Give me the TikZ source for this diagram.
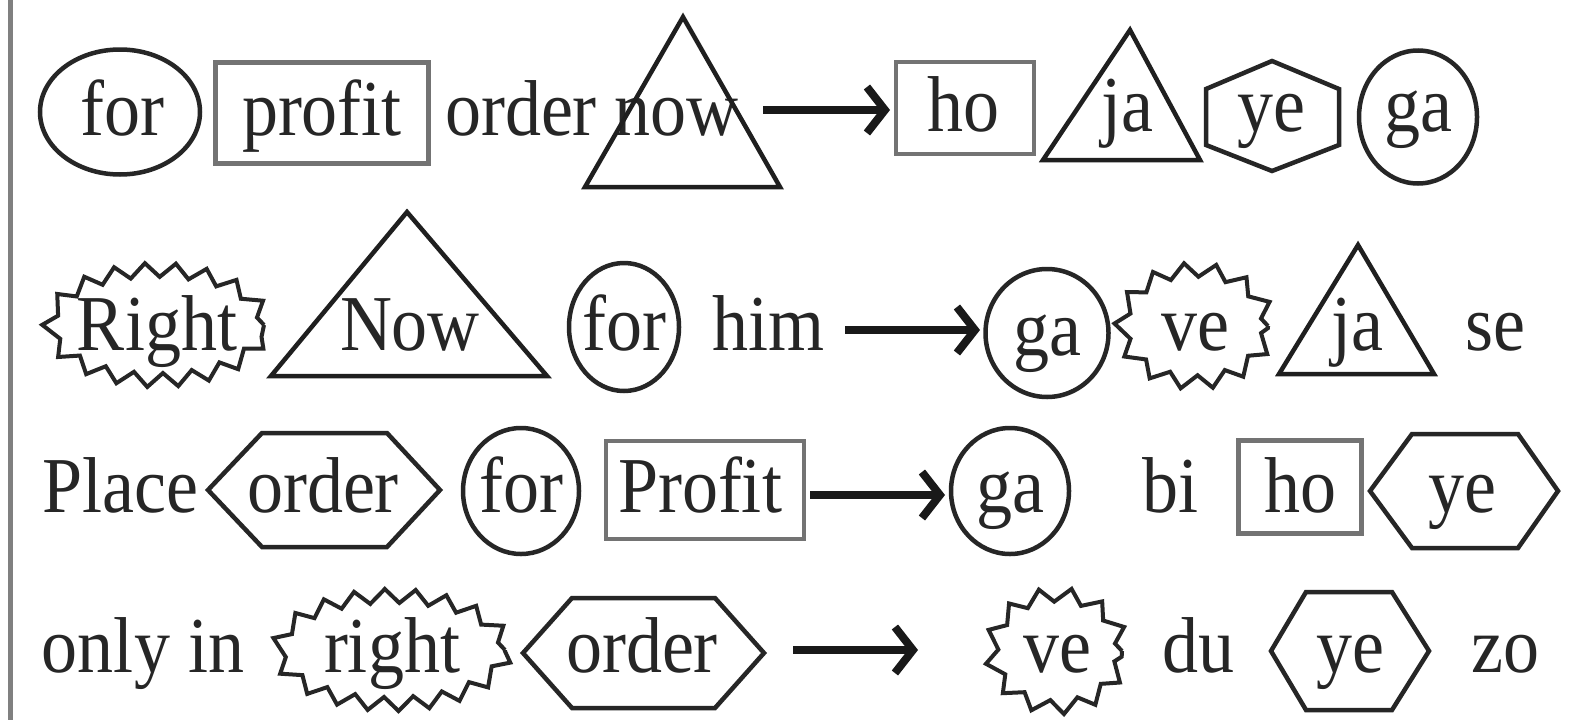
\documentclass[tikz,border=0pt]{standalone}
\usepackage{fontspec}
\setmainfont{Liberation Serif}
\usetikzlibrary{arrows.meta,shapes.geometric,decorations.pathmorphing}
\newcommand{\tallword}[1]{\scalebox{1}[1.1]{#1}}
\begin{document}
\begin{tikzpicture}[x=1pt,y=-1pt,
  txt/.style={inner sep=0pt, anchor=base, font=\fontsize{72}{80}\selectfont, text=black!85},
  ell/.style={draw=black!85, line width=4.5pt, ellipse, inner sep=0pt},
  box/.style={draw=black!55, line width=4.5pt, rectangle, inner sep=0pt},
  tri/.style={draw=black!88, line width=4.5pt, line join=miter},
  hexa/.style={draw=black!85, line width=4.5pt, line join=miter},
  burst/.style={draw=black!85, line width=4pt, decorate,
     decoration={zigzag, segment length=30pt, amplitude=7pt}},
  arr/.style={draw=black!90, line width=8pt, -{Straight Barb[length=18pt, width=46pt]}}]
\useasboundingbox (0,0) rectangle (1581,720);
\fill[white] (0,0) rectangle (1581,720);
\draw[black!50, line width=5pt] (10,0) -- (10,720);

% ---------------- Row 1 ----------------
\node[ell, minimum width=160pt, minimum height=125pt] (r1e1) at (120,112) {};
\node[txt] (r1t1) at (122,135) {\tallword{for}};
\node[box, minimum width=213pt, minimum height=101pt] (r1b1) at (322,113) {};
\node[txt] (r1t2) at (322,135) {\tallword{profit}};
\node[txt] (r1t3) at (521,135) {\tallword{order}};
\node[txt] (r1t4) at (676,135) {\tallword{now}};
\draw[tri] (585,187) -- (683,17) -- (780,187) -- cycle;
\coordinate (r1a) at (763,110);
\node[box, minimum width=138pt, minimum height=92pt] (r1b2) at (965,108) {};
\node[txt] (r1t5) at (963,131) {\tallword{ho}};
\coordinate (r1c) at (890,110);
\draw[arr] (r1a) -- (r1c);
\draw[tri] (1043,160) -- (1130,30) -- (1200,160) -- cycle;
\node[txt] (r1t6) at (1127,131) {\tallword{ja}};
\draw[hexa] (1272,61) -- (1339,89) -- (1339,145) -- (1272,171) -- (1206,145) -- (1206,89) -- cycle;
\node[txt] (r1t7) at (1271,131) {\tallword{ye}};
\node[ell, minimum width=118pt, minimum height=133pt] (r1e2) at (1418,117) {};
\node[txt] (r1t8) at (1418,131) {\tallword{ga}};

% ---------------- Row 2 ----------------
\draw[burst] (157,325) ellipse (107pt and 55pt);
\node[txt] (r2t1) at (157,350) {\tallword{Right}};
\draw[tri] (271,376) -- (407,212) -- (547,376) -- cycle;
\node[txt] (r2t2) at (410,350) {\tallword{Now}};
\node[ell, minimum width=110pt, minimum height=128pt] (r2e1) at (624,327) {};
\node[txt] (r2t3) at (624,350) {\tallword{for}};
\node[txt] (r2t4) at (768,350) {\tallword{him}};
\coordinate (r2a) at (845,330);
\coordinate (r2c) at (980,330);
\draw[arr] (r2a) -- (r2c);
\node[ell, minimum width=123pt, minimum height=128pt] (r2e2) at (1047,333) {};
\node[txt] (r2t5) at (1047,355) {\tallword{ga}};
\draw[burst] (1195,326) ellipse (73pt and 56pt);
\node[txt] (r2t6) at (1195,350) {\tallword{ve}};
\draw[tri] (1279,374) -- (1358,245) -- (1434,374) -- cycle;
\node[txt] (r2t7) at (1357,350) {\tallword{ja}};
\node[txt] (r2t8) at (1495,350) {\tallword{se}};

% ---------------- Row 3 ----------------
\node[txt] (r3t1) at (120,512) {\tallword{Place}};
\draw[hexa] (208,490) -- (262,433) -- (387,433) -- (440,490) -- (387,547) -- (262,547) -- cycle;
\node[txt] (r3t2) at (323,512) {\tallword{order}};
\node[ell, minimum width=116pt, minimum height=126pt] (r3e1) at (521,491) {};
\node[txt] (r3t3) at (521,512) {\tallword{for}};
\node[box, minimum width=198pt, minimum height=98pt] (r3b1) at (705,490) {};
\node[txt] (r3t4) at (700,512) {\tallword{Profit}};
\coordinate (r3a) at (810,495);
\coordinate (r3c) at (945,495);
\draw[arr] (r3a) -- (r3c);
\node[ell, minimum width=118pt, minimum height=126pt] (r3e2) at (1010,491) {};
\node[txt] (r3t5) at (1010,512) {\tallword{ga}};
\node[txt] (r3t6) at (1170,512) {\tallword{bi}};
\node[box, minimum width=123pt, minimum height=93pt] (r3b2) at (1300,487) {};
\node[txt] (r3t7) at (1300,512) {\tallword{ho}};
\draw[hexa] (1370,491) -- (1412,434) -- (1518,434) -- (1558,491) -- (1518,548) -- (1412,548) -- cycle;
\node[txt] (r3t8) at (1462,512) {\tallword{ye}};

% ---------------- Row 4 ----------------
\node[txt] (r4t1) at (143,672) {\tallword{only in}};
\draw[burst] (392,650) ellipse (113pt and 54pt);
\node[txt] (r4t2) at (392,672) {\tallword{right}};
\draw[hexa] (523,653) -- (572,598) -- (715,598) -- (764,653) -- (715,708) -- (572,708) -- cycle;
\node[txt] (r4t3) at (642,672) {\tallword{order}};
\coordinate (r4a) at (793,650);
\coordinate (r4c) at (918,650);
\draw[arr] (r4a) -- (r4c);
\draw[burst] (1057,651) ellipse (65pt and 56pt);
\node[txt] (r4t4) at (1057,672) {\tallword{ve}};
\node[txt] (r4t5) at (1198,672) {\tallword{du}};
\draw[hexa] (1271,651) -- (1306,592) -- (1392,592) -- (1429,651) -- (1392,710) -- (1306,710) -- cycle;
\node[txt] (r4t6) at (1350,672) {\tallword{ye}};
\node[txt] (r4t7) at (1505,672) {\tallword{zo}};
\end{tikzpicture}
\end{document}
